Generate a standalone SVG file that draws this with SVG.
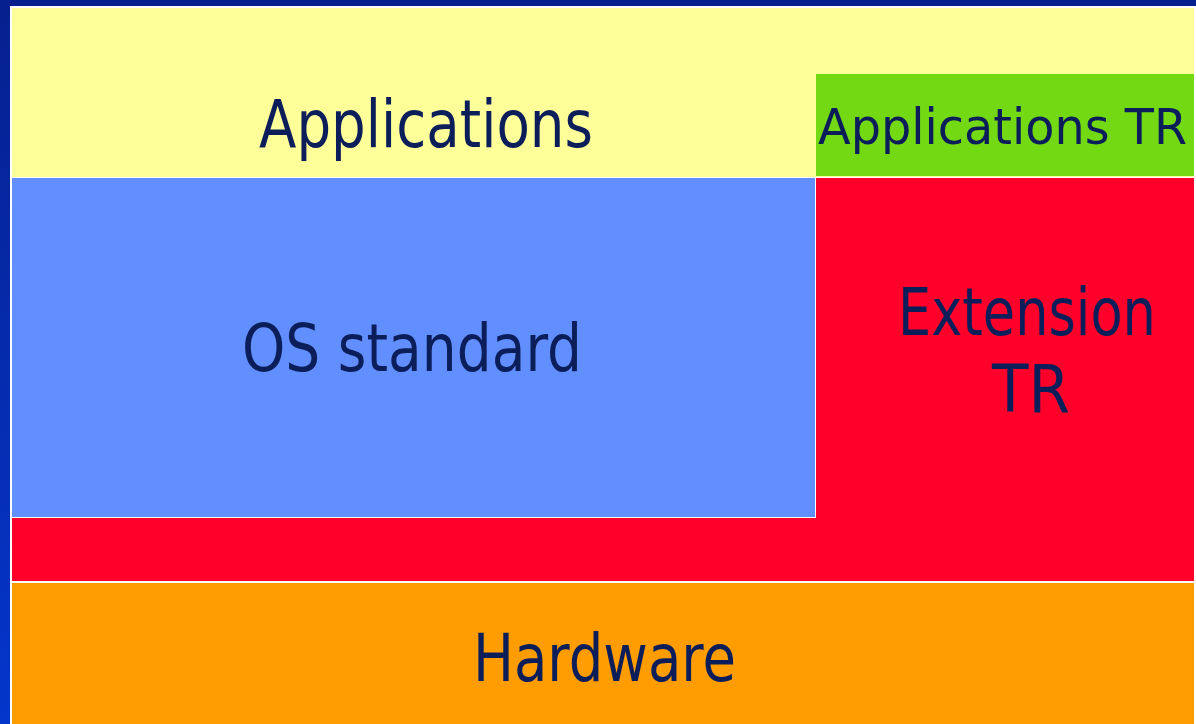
<svg xmlns="http://www.w3.org/2000/svg" width="1196" height="724" viewBox="0 0 1196 724">
  <defs>
    <linearGradient id="frame" x1="0" y1="0" x2="0" y2="1">
      <stop offset="0" stop-color="#06208f"/>
      <stop offset="1" stop-color="#0436cc"/>
    </linearGradient>
    <style>
      .lbl { font-family: "DejaVu Sans", "Liberation Sans", sans-serif; fill: #0c1e5a; }
      .big { font-size: 66px; }
      .small { font-size: 50px; }
    </style>
  </defs>

  <!-- page background and blue slide frame -->
  <rect x="0" y="0" width="1196" height="724" fill="#ffffff"/>
  <rect x="0" y="0" width="10" height="724" fill="url(#frame)"/>
  <rect x="0" y="0" width="1196" height="6" fill="#06208f"/>

  <!-- layer stack -->
  <g id="applications">
    <rect x="12" y="8" width="1182" height="169" fill="#ffff99"/>
    <text class="lbl big" x="259" y="147" textLength="334" lengthAdjust="spacingAndGlyphs">Applications</text>
  </g>

  <g id="applications-tr">
    <rect x="816" y="74" width="378" height="102" fill="#73d912"/>
    <!-- horizontally condensed label that fills the green box -->
    <text class="lbl small" transform="translate(818,144) scale(0.955,1)" x="0" y="0">Applications TR</text>
  </g>

  <g id="os-standard">
    <rect x="12" y="178" width="803" height="339" fill="#628fff"/>
    <text class="lbl big" x="242" y="371" textLength="340" lengthAdjust="spacingAndGlyphs">OS standard</text>
  </g>

  <g id="extension-tr">
    <path d="M816,178 H1194 V581 H12 V518 H816 Z" fill="#ff002a"/>
    <text class="lbl big" transform="translate(898,335) scale(0.796,1)" x="0" y="0">Extension</text>
    <text class="lbl big" x="992" y="412" textLength="78" lengthAdjust="spacingAndGlyphs">TR</text>
  </g>

  <g id="hardware">
    <rect x="12" y="583" width="1182" height="141" fill="#ff9c00"/>
    <text class="lbl big" x="473" y="681" textLength="263" lengthAdjust="spacingAndGlyphs">Hardware</text>
  </g>

  <g id="connectors"/>
</svg>
